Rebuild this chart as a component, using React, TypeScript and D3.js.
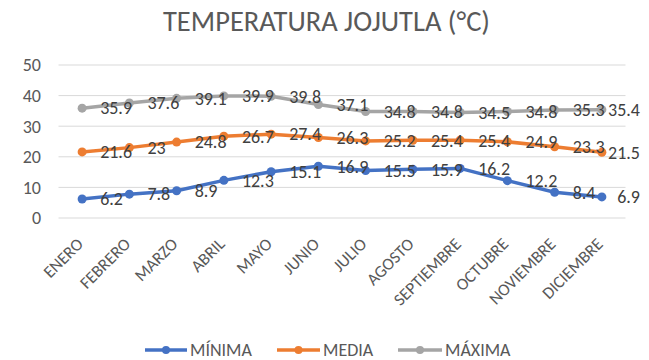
import React from "react";
import * as d3 from "d3";

const months = ["ENERO","FEBRERO","MARZO","ABRIL","MAYO","JUNIO","JULIO","AGOSTO","SEPTIEMBRE","OCTUBRE","NOVIEMBRE","DICIEMBRE"];
const minima = [6.2, 7.8, 8.9, 12.3, 15.1, 16.9, 15.5, 15.9, 16.2, 12.2, 8.4, 6.9];
const media = [21.6, 23, 24.8, 26.7, 27.4, 26.3, 25.2, 25.4, 25.4, 24.9, 23.3, 21.5];
const maxima = [35.9, 37.6, 39.1, 39.9, 39.8, 37.1, 34.8, 34.8, 34.5, 34.8, 35.3, 35.4];
const yTicks = [0, 10, 20, 30, 40, 50];
const seriesNames = ["MÍNIMA", "MEDIA", "MÁXIMA"];
const seriesColors = ["#4472C4", "#ED7D31", "#A5A5A5"];
const title = "TEMPERATURA JOJUTLA (°C)";

const W = 649, H = 360;
const FONT = "Calibri, Carlito, 'Open Sans', 'Noto Sans', sans-serif";
const LABEL_SIZE = 18;

function labelWidth(s: string) {
  let w = 0;
  for (const c of s) w += c === "." ? 0.252 : 0.507;
  return w * LABEL_SIZE;
}

export default function App() {
  const x = d3.scalePoint<string>().domain(months).range([58.5, 625.5]).padding(0.5);
  const y = d3.scaleLinear().domain([0, 50]).range([218, 65]);
  const line = d3.line<number>().x((_, i) => x(months[i]) as number).y((d) => y(d));
  const series = [minima, media, maxima];
  const legendItems = [
    { lx: 145, tx: 190 },
    { lx: 277, tx: 323 },
    { lx: 398, tx: 445 },
  ];
  return (
    <svg width={W} height={H} style={{ position: "absolute", left: 0, top: 0, background: "#fff" }} fontFamily={FONT}>
      <text x={326.5} y={31} textAnchor="middle" fontSize={28.5} fill="#595959">{title}</text>
      {yTicks.map((t) => (
        <g key={t}>
          <line x1={58.5} x2={625.5} y1={y(t)} y2={y(t)} stroke="#D9D9D9" strokeWidth={1} />
          <text x={41} y={y(t)} dy="0.35em" textAnchor="end" fontSize={18} fill="#595959">{t}</text>
        </g>
      ))}
      {months.map((m) => (
        <text key={m} transform={`translate(${(x(m) as number) + 2},245) rotate(-45)`} textAnchor="end" fontSize={17} fill="#595959">{m}</text>
      ))}
      {series.map((s, si) => (
        <g key={si}>
          <path d={line(s) || ""} fill="none" stroke={seriesColors[si]} strokeWidth={3.5} strokeLinejoin="round" strokeLinecap="round" />
          {s.map((v, i) => (
            <circle key={i} cx={x(months[i]) as number} cy={y(v)} r={4.5} fill={seriesColors[si]} />
          ))}
        </g>
      ))}
      {series.map((s, si) => (
        <g key={"l" + si}>
          {s.map((v, i) => {
            const txt = String(v);
            const px = x(months[i]) as number;
            const clamp = px + 18 + labelWidth(txt) > 640;
            return (
              <text key={i} x={clamp ? 640 : px + 18} y={y(v)} dy="0.35em" textAnchor={clamp ? "end" : "start"} fontSize={LABEL_SIZE} fill="#404040">{txt}</text>
            );
          })}
        </g>
      ))}
      {seriesNames.map((n, i) => (
        <g key={n}>
          <line x1={legendItems[i].lx} x2={legendItems[i].tx - 3} y1={350} y2={350} stroke={seriesColors[i]} strokeWidth={3.5} />
          <circle cx={(legendItems[i].lx + legendItems[i].tx - 3) / 2} cy={350} r={4} fill={seriesColors[i]} />
          <text x={legendItems[i].tx} y={350} dy="0.35em" fontSize={18} fill="#595959">{n}</text>
        </g>
      ))}
    </svg>
  );
}
